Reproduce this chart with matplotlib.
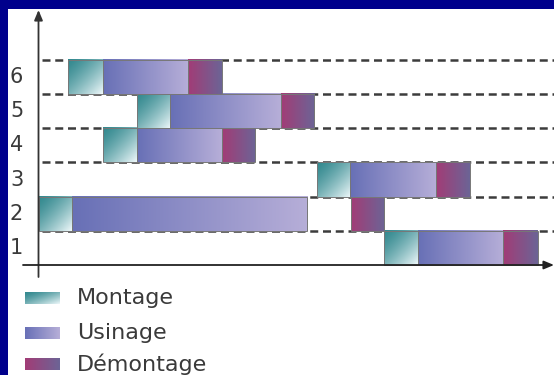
import numpy as np
import matplotlib
matplotlib.use("Agg")
import matplotlib.pyplot as plt
from matplotlib.patches import Rectangle
from matplotlib.colors import to_rgb

# rows 1..6 (bottom to top), times in units of one "Montage" duration
rows = [1, 2, 3, 4, 5, 6]
montage_start = [10.17, 0.02, 8.18, 1.89, 2.89, 0.88]
montage_dur = [0.98, 0.96, 0.98, 1.0, 0.98, 1.01]
usinage_dur = [2.52, 6.92, 2.53, 2.5, 3.26, 2.5]
demontage_start = [13.67, 9.18, 11.69, 5.39, 7.13, 4.39]
demontage_dur = [1.01, 0.99, 1.0, 0.98, 0.98, 1.0]
legend_labels = ["Montage", "Usinage", "Démontage"]

W, H = 554, 375
X0, UX = 38.5, 34.0        # pixel of t=0, pixels per unit
Y0, UY = 265.0, 34.17      # pixel (from top) of y=0.5, pixels per row


def px2x(p):
    return (p - X0) / UX


def px2y(q):
    return 0.5 + (Y0 - q) / UY


def grad(c0, c1, diag=False, n=64):
    xx, yy = np.meshgrid(np.linspace(0, 1, n), np.linspace(0, 1, n))
    t = (xx + yy) / 2 if diag else xx
    if diag:
        t = t ** 1.4
    c0, c1 = np.array(to_rgb(c0)), np.array(to_rgb(c1))
    return c0[None, None, :] * (1 - t[..., None]) + c1[None, None, :] * t[..., None]


styles = {
    "Montage": grad("#33898f", "#eef8fa", diag=True),
    "Usinage": grad("#6870b6", "#b6aed8"),
    "Démontage": grad("#a23c76", "#6c6496"),
}

plt.rcParams['font.family'] = ['DejaVu Sans']

fig = plt.figure(figsize=(W / 100, H / 100), dpi=100)
fig.patch.set_facecolor("#00008c")
ax = fig.add_axes([0, 0, 1, 1])
ax.set_facecolor("#00008c")
ax.axis("off")

# white panel
ax.add_patch(Rectangle((px2x(8), px2y(W)), px2x(W) - px2x(8) + 1, px2y(9) - px2y(W),
                       facecolor="white", edgecolor="none", zorder=0))

# dashed row separators
for y in np.arange(1.5, 7.0, 1.0):
    ax.hlines(y, px2x(42), px2x(W), colors="#3c3c3c", linewidth=1.8,
              linestyles=(0, (3.2, 1.9)), zorder=1)


def bar(x, w, r, name):
    ext = [x, x + w, r - 0.5, r + 0.5]
    ax.imshow(styles[name], extent=ext, origin="upper", aspect="auto",
              interpolation="bilinear", zorder=2)
    ax.add_patch(Rectangle((x, r - 0.5), w, 1, fill=False, edgecolor="#777777",
                           linewidth=0.7, zorder=3))


for i, r in enumerate(rows):
    ms = montage_start[i]
    me = ms + montage_dur[i]
    bar(ms, montage_dur[i], r, "Montage")
    bar(me, usinage_dur[i], r, "Usinage")
    bar(demontage_start[i], demontage_dur[i], r, "Démontage")
    ax.text(px2x(16.5), r, str(r), ha="center", va="center", fontsize=15,
            color="#3a3a3a", zorder=4)

# axes with arrows
ax.annotate("", xy=(0, px2y(10)), xytext=(0, px2y(277)),
            arrowprops=dict(arrowstyle="-|>,head_width=0.25,head_length=0.6",
                            color="#333333", lw=1.3, shrinkA=0, shrinkB=0), zorder=5)
ax.annotate("", xy=(px2x(W), 0.5), xytext=(px2x(23), 0.5),
            arrowprops=dict(arrowstyle="-|>,head_width=0.25,head_length=0.6",
                            color="#222222", lw=1.3, shrinkA=0, shrinkB=0), zorder=5)

# legend
leg_y = [298.5, 333, 364]
leg_base = [304, 339, 371]
for name, cy, by in zip(legend_labels, leg_y, leg_base):
    ax.imshow(styles[name], extent=[px2x(25), px2x(60), px2y(cy + 6), px2y(cy - 6)],
              origin="upper", aspect="auto", interpolation="bilinear", zorder=2)
    ax.text(px2x(77), px2y(by), name, ha="left", va="baseline", fontsize=16,
            color="#3a3a3a", zorder=4)

ax.set_xlim(px2x(0), px2x(W))
ax.set_ylim(px2y(H), px2y(0))

fig.savefig("out.png", dpi=100, facecolor=fig.get_facecolor())
